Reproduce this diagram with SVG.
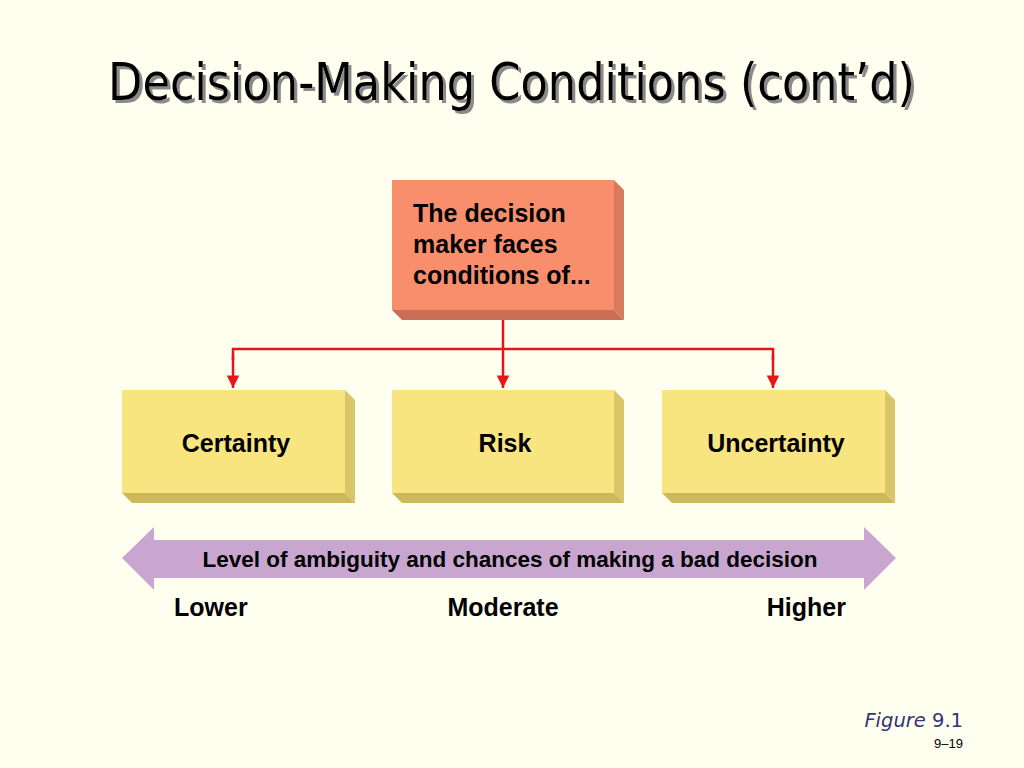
<svg xmlns="http://www.w3.org/2000/svg" width="1024" height="768" viewBox="0 0 1024 768">
<defs>
<style>
.t{font-family:"Liberation Sans",Arial,sans-serif;font-weight:bold;fill:#000}
.title{font-family:"DejaVu Sans Condensed","DejaVu Sans",sans-serif;font-size:52px}
.con{stroke:#E8141B;stroke-width:2.5;fill:none}
.yf{fill:#F8E57F}.ys{fill:#D9C669}.yb{fill:#CDB95C}
</style>
<filter id="sh" x="-5%" y="-20%" width="110%" height="140%">
<feDropShadow dx="3" dy="3" stdDeviation="0.6" flood-color="#8a8a8a" flood-opacity="1"/>
</filter>
<marker id="ah" viewBox="0 0 10 10" refX="10" refY="5" markerWidth="6" markerHeight="5" markerUnits="strokeWidth" orient="auto">
<path d="M0,0L10,5L0,10z" fill="#E8141B"/>
</marker>
</defs>
<rect width="1024" height="768" fill="#FFFFF0"/>
<g id="title">
<text class="title" x="108" y="100" fill="#000" filter="url(#sh)" textLength="807" lengthAdjust="spacingAndGlyphs">Decision-Making Conditions (cont’d)</text>
</g>
<g id="connectors">
<line class="con" x1="503" y1="318" x2="503" y2="388" marker-end="url(#ah)"/>
<polyline class="con" points="233,360 233,349 773,349 773,360"/>
<line class="con" x1="233" y1="355" x2="233" y2="388" marker-end="url(#ah)"/>
<line class="con" x1="773" y1="355" x2="773" y2="388" marker-end="url(#ah)"/>
</g>
<g id="top">
<polygon points="614,180 624,190 624,320 614,310" fill="#D77A5E"/>
<polygon points="392,310 614,310 624,320 402,320" fill="#C96F55"/>
<rect x="392" y="180" width="222" height="130" fill="#F98E6D"/>
<text class="t" font-size="25" x="413" y="222">The decision</text>
<text class="t" font-size="25" x="413" y="253">maker faces</text>
<text class="t" font-size="25" x="413" y="284">conditions of...</text>
</g>
<g id="certainty">
<polygon class="ys" points="345,390 355,400 355,503 345,493"/>
<polygon class="yb" points="122,493 345,493 355,503 132,503"/>
<rect class="yf" x="122" y="390" width="223" height="103"/>
<text class="t" font-size="25" x="236" y="452" text-anchor="middle">Certainty</text>
</g>
<g id="risk">
<polygon class="ys" points="614,390 624,400 624,503 614,493"/>
<polygon class="yb" points="392,493 614,493 624,503 402,503"/>
<rect class="yf" x="392" y="390" width="222" height="103"/>
<text class="t" font-size="25" x="505" y="452" text-anchor="middle">Risk</text>
</g>
<g id="uncertainty">
<polygon class="ys" points="885,390 895,400 895,503 885,493"/>
<polygon class="yb" points="662,493 885,493 895,503 672,503"/>
<rect class="yf" x="662" y="390" width="223" height="103"/>
<text class="t" font-size="25" x="776" y="452" text-anchor="middle">Uncertainty</text>
</g>
<g id="scale">
<polygon points="122,558 154,527 154,540 864,540 864,527 896,558 864,590 864,578 154,578 154,590" fill="#C9A6D0"/>
<text class="t" font-size="22.5" x="510" y="567" text-anchor="middle">Level of ambiguity and chances of making a bad decision</text>
<text class="t" font-size="25" x="174" y="616">Lower</text>
<text class="t" font-size="25" x="503" y="616" text-anchor="middle">Moderate</text>
<text class="t" font-size="25" x="846" y="616" text-anchor="end">Higher</text>
</g>
<g id="footer">
<text x="963" y="727" text-anchor="end" font-family="'DejaVu Sans','Liberation Sans',sans-serif" font-size="19.5" fill="#333375"><tspan font-style="italic">Figure</tspan> 9.1</text>
<text x="963" y="748" text-anchor="end" font-family="'Liberation Sans',Arial,sans-serif" font-size="13" fill="#000">9–19</text>
</g>
</svg>
